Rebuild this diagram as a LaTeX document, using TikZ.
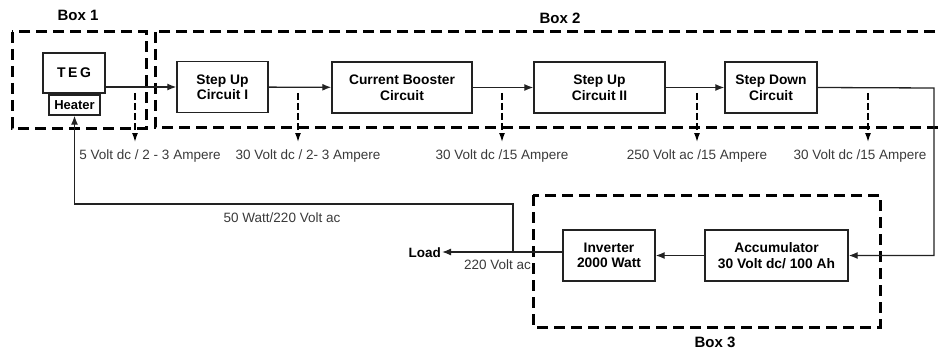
\documentclass[tikz,border=0pt]{standalone}
\usepackage{fontspec}
\setmainfont{Liberation Sans}
\usetikzlibrary{arrows.meta,positioning}
\definecolor{lnblack}{HTML}{222222}
\definecolor{lbgray}{HTML}{3A3A3A}

\tikzset{
  blockbox/.style={draw=lnblack, line width=1.4pt, minimum width=#1, minimum height=51pt,
    inner sep=1pt, align=center, font=\fontsize{13.8}{15.5}\selectfont\bfseries},
  blockbox/.default=92pt,
  dashbox/.style={draw=black, line width=3pt, dash pattern=on 11pt off 6pt},
  flow/.style={draw=lnblack, line width=1.3pt, -{Latex[length=9pt,width=7pt]}},
  tapline/.style={draw=black, line width=1.3pt, dash pattern=on 7pt off 3pt, -{Latex[length=9pt,width=6pt]}},
  lbl/.style={text=lbgray, font=\fontsize{13.5}{15}\selectfont, inner sep=0pt},
  boxlbl/.style={font=\fontsize{15}{17}\selectfont\bfseries, inner sep=0pt}
}

\begin{document}
\begin{tikzpicture}[x=1pt, y=-1pt]
  \useasboundingbox (0,0) rectangle (941,350);

  % dashed groups
  \draw[dashbox] (12,32) rectangle (146,128);
  \node[boxlbl] (box1) at (78,15) {Box 1};
  \draw[dashbox] (155,32) rectangle (960,127);
  \node[boxlbl] (box2) at (560,18) {Box 2};
  \draw[dashbox] (533,195) rectangle (880,327);
  \node[boxlbl] (box3) at (715,342) {Box 3};

  % blocks
  \node[blockbox=62pt, minimum height=40pt, font=\fontsize{14}{16}\selectfont\bfseries\addfontfeature{LetterSpace=18}] (teg) at (74,73) {TEG};
  \node[blockbox=51pt, minimum height=20pt, font=\fontsize{13}{15}\selectfont\bfseries] (heater) at (74.5,105) {Heater};
  \node[blockbox=91pt] (stepI) at (222.5,87) {Step Up\\Circuit I};
  \node[blockbox=140pt] (booster) at (402,87.5) {Current Booster\\Circuit};
  \node[blockbox=131pt] (stepII) at (599.5,87.5) {Step Up\\Circuit II};
  \node[blockbox=92pt] (stepdown) at (771,87.5) {Step Down\\Circuit};
  \node[blockbox=92pt] (inverter) at (609,255.5) {Inverter\\2000 Watt};
  \node[blockbox=143pt] (accu) at (776.5,255.5) {Accumulator\\30 Volt dc/ 100 Ah};
  \node[font=\fontsize{13.5}{15}\selectfont\bfseries, inner sep=1pt, anchor=east] (load) at (442,253) {Load};

  % main chain
  \draw[flow] (teg.east |- stepI.west) -- (stepI.west);
  \draw[flow] (stepI) -- (booster);
  \draw[flow] (booster) -- (stepII);
  \draw[flow] (stepII) -- (stepdown);
  \coordinate (turn) at (934,88);
  \draw[flow] (stepdown.east) -- (turn) |- (accu.east);
  \draw[flow] (accu) -- (inverter);
  \draw[flow] (inverter.west |- 0,252) -- (load.east |- 0,252);

  % feedback to heater
  \coordinate (fb) at (513,252);
  \coordinate (fbtop) at (513,204);
  \draw[flow] (fb) -- (fbtop) -| (heater.south);
  \node[lbl] (fblbl) at (282,218) {50 Watt/220 Volt ac};
  \node[lbl, anchor=east] (loadlbl) at (531,265) {220 Volt ac};

  % measuring taps
  \foreach \tx/\cx/\txt [count=\i] in {135/150/{5 Volt dc / 2 - 3 Ampere},
      298/308/{30 Volt dc / 2- 3 Ampere},
      502/502/{30 Volt dc /15 Ampere},
      697/697/{250 Volt ac /15 Ampere},
      868/860/{30 Volt dc /15 Ampere}} {
    \coordinate (tap\i) at (\tx,93);
    \coordinate (tapend\i) at (\tx,142);
    \draw[tapline] (tap\i) -- (tapend\i);
    \node[lbl] (taplbl\i) at (\cx,156) {\txt};
  }
\end{tikzpicture}
\end{document}
